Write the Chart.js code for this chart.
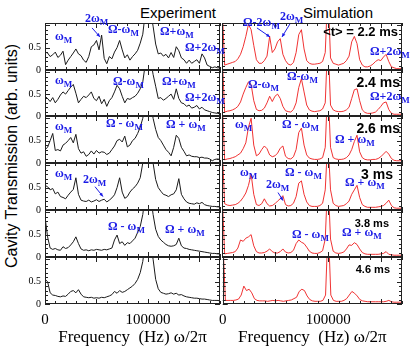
<!DOCTYPE html>
<html>
<head>
<meta charset="utf-8">
<script src="https://cdn.jsdelivr.net/npm/chart.js@4.4.0/dist/chart.umd.min.js"></script>
<style>
  html, body { margin: 0; padding: 0; background: #fff; }
  #fig { position: relative; width: 416px; height: 350px; overflow: hidden; font-family: "Liberation Sans", Arial, sans-serif; }
  #fig canvas { position: absolute; }
  .head { position: absolute; top: 4px; width: 120px; text-align: center; font-size: 15px; line-height: 18px; color: #000; }
  .ytitle { position: absolute; left: -138px; top: 146px; width: 300px; height: 20px; line-height: 20px;
            text-align: center; font-size: 16px; color: #000; transform: rotate(-90deg); white-space: nowrap; }
  .note { position: absolute; color: #1a1ae6; font: bold 12px "Liberation Serif", serif; line-height: 12px; white-space: nowrap; }
  .note sub { font-size: 9px; line-height: 0; vertical-align: -3px; }
  .tlab { position: absolute; font-weight: bold; color: #000; white-space: nowrap; line-height: 1; }
</style>
</head>
<body>
<div id="fig">
  <div class="head" style="left:118px">Experiment</div>
  <div class="head" style="left:278px">Simulation</div>
  <div class="ytitle">Cavity Transmission (arb. units)</div>
</div>
<script>
// frequency grid (Hz), shared by every trace
const FREQ = [
  0, 2500, 5000, 7500, 10000, 12500, 15000, 17500, 20000, 22500,
  25000, 27500, 30000, 32500, 35000, 37500, 40000, 42500, 45000, 47500,
  50000, 52500, 55000, 57500, 60000, 62500, 65000, 67500, 70000, 72500,
  75000, 77500, 80000, 82500, 85000, 87500, 90000, 92500, 95000, 97500,
  100000, 102500, 105000, 107500, 110000, 112500, 115000, 117500, 120000, 122500,
  125000, 127500, 130000, 132500, 135000, 137500, 140000, 142500, 145000, 147500,
  150000, 152500, 155000, 157500, 160000, 162500, 165000, 167500, 170000,
];
const X_TICKS = [0, 100000];
const Y_TICKS = [0, 0.5];
const TIMES = ['<t> = 2.2 ms', '2.4 ms', '2.6 ms', '3 ms', '3.8 ms', '4.6 ms'];

// ── Experiment (black) ──
const EXP_22 = [0.40,0.38,0.30,0.34,0.40,0.28,0.33,0.42,0.12,0.22, 0.30,0.38,0.47,0.36,0.32,0.22,0.17,0.30,0.52,0.56,
  0.66,0.45,0.78,0.26,0.14,0.30,0.25,0.40,0.50,0.66, 0.45,0.27,0.34,0.22,0.30,0.36,0.44,0.60,0.80,1.30,
  1.60,1.30,0.98,0.58,0.36,0.38,0.31,0.35,0.27,0.39, 0.28,0.52,0.43,0.27,0.23,0.15,0.22,0.15,0.19,0.23,
  0.15,0.36,0.27,0.11,0.08,0.05,0.07,0.05,0.05];
const EXP_24 = [0.45,0.40,0.33,0.42,0.30,0.38,0.48,0.55,0.50,0.58, 0.66,0.72,0.52,0.30,0.38,0.45,0.42,0.48,0.55,0.40,
  0.35,0.45,0.28,0.38,0.22,0.35,0.42,0.55,0.70,0.62, 0.45,0.30,0.40,0.38,0.42,0.45,0.52,0.62,0.78,1.20,
  1.60,1.30,0.95,0.68,0.40,0.42,0.36,0.40,0.45,0.50, 0.38,0.62,0.40,0.30,0.28,0.22,0.25,0.18,0.20,0.24,
  0.16,0.20,0.14,0.12,0.10,0.08,0.07,0.06,0.05];
const EXP_26 = [0.30,0.35,0.50,0.66,0.28,0.30,0.27,0.40,0.44,0.50, 0.57,0.45,0.64,0.32,0.22,0.25,0.15,0.19,0.27,0.20,
  0.28,0.22,0.25,0.24,0.19,0.22,0.30,0.38,0.50,0.53, 0.47,0.60,0.36,0.40,0.50,0.55,0.66,0.80,1.00,1.30,
  1.60,1.40,1.00,0.75,0.57,0.50,0.40,0.30,0.24,0.16, 0.35,0.62,0.55,0.35,0.26,0.16,0.18,0.15,0.14,0.14,
  0.12,0.13,0.11,0.11,0.09,0.05,0.08,0.09,0.08];
const EXP_30 = [0.55,0.52,0.45,0.48,0.36,0.40,0.30,0.28,0.25,0.33, 0.40,0.46,0.72,0.35,0.22,0.20,0.19,0.22,0.18,0.20,
  0.23,0.19,0.22,0.24,0.18,0.22,0.27,0.34,0.50,0.72, 0.40,0.26,0.30,0.40,0.47,0.52,0.60,0.72,1.05,1.50,
  1.70,1.50,1.05,0.68,0.50,0.42,0.35,0.33,0.30,0.34, 0.36,0.45,0.70,0.35,0.25,0.18,0.15,0.14,0.13,0.16,
  0.14,0.17,0.12,0.10,0.09,0.08,0.08,0.07,0.07];
const EXP_38 = [0.90,0.45,0.20,0.17,0.19,0.16,0.15,0.23,0.19,0.21, 0.27,0.34,0.45,0.30,0.18,0.15,0.16,0.14,0.16,0.15,
  0.17,0.16,0.15,0.17,0.16,0.18,0.20,0.38,0.49,0.30, 0.34,0.26,0.32,0.30,0.36,0.42,0.55,0.68,0.95,1.40,
  1.70,1.40,0.95,0.62,0.46,0.38,0.33,0.28,0.25,0.24, 0.25,0.28,0.42,0.25,0.20,0.19,0.17,0.16,0.15,0.14,
  0.13,0.12,0.11,0.10,0.09,0.08,0.08,0.07,0.07];
const EXP_46 = [0.55,0.50,0.25,0.20,0.19,0.17,0.16,0.18,0.17,0.22, 0.28,0.30,0.25,0.32,0.22,0.16,0.15,0.14,0.15,0.13,
  0.14,0.13,0.15,0.14,0.16,0.18,0.21,0.28,0.24,0.30, 0.26,0.28,0.32,0.36,0.40,0.46,0.55,0.70,0.95,1.40,
  1.80,1.40,1.00,0.55,0.34,0.26,0.24,0.22,0.23,0.25, 0.22,0.24,0.20,0.21,0.18,0.16,0.15,0.14,0.13,0.13,
  0.12,0.11,0.11,0.10,0.09,0.08,0.08,0.08,0.07];

// ── Simulation (red) ──
const SIM_22 = [1.50,0.11,0.13,0.15,0.17,0.19,0.25,0.35,0.52,0.75, 1.02,0.90,0.55,0.23,0.15,0.15,0.21,0.31,0.75,0.39,
  0.47,0.63,0.70,0.35,0.21,0.13,0.11,0.17,0.39,0.79, 0.90,0.47,0.21,0.15,0.13,0.13,0.14,0.15,0.19,0.39,
  1.80,0.27,0.15,0.13,0.11,0.13,0.15,0.21,0.31,0.63, 0.75,0.59,0.23,0.11,0.07,0.07,0.09,0.13,0.19,0.23,
  0.21,0.29,0.35,0.19,0.07,0.05,0.03,0.03,0.03];
const SIM_24 = [1.50,0.09,0.11,0.12,0.14,0.17,0.22,0.32,0.50,0.65, 0.78,0.72,0.35,0.15,0.12,0.13,0.18,0.30,0.45,0.33,
  0.45,0.50,0.40,0.22,0.12,0.10,0.09,0.15,0.30,0.65, 0.85,0.55,0.25,0.14,0.11,0.10,0.11,0.12,0.16,0.30,
  1.80,0.25,0.14,0.11,0.10,0.10,0.11,0.14,0.20,0.40, 0.60,0.62,0.35,0.14,0.08,0.06,0.06,0.07,0.09,0.15,
  0.22,0.30,0.32,0.15,0.06,0.04,0.04,0.04,0.04];
const SIM_26 = [1.50,0.07,0.09,0.10,0.12,0.14,0.18,0.22,0.32,0.45, 0.80,1.00,0.40,0.16,0.20,0.30,0.38,0.32,0.18,0.14,
  0.16,0.22,0.33,0.38,0.15,0.10,0.09,0.14,0.30,0.68, 0.78,0.40,0.18,0.11,0.09,0.08,0.08,0.09,0.12,0.35,
  1.80,0.35,0.12,0.09,0.08,0.08,0.09,0.12,0.18,0.30, 0.48,0.62,0.25,0.12,0.08,0.07,0.07,0.08,0.08,0.10,
  0.14,0.20,0.26,0.20,0.10,0.06,0.05,0.05,0.05];
const SIM_30 = [1.50,0.14,0.11,0.10,0.11,0.12,0.15,0.20,0.28,0.38, 0.55,0.80,0.35,0.12,0.10,0.14,0.25,0.14,0.09,0.10,
  0.14,0.20,0.25,0.32,0.12,0.09,0.10,0.15,0.30,0.60, 0.65,0.35,0.18,0.10,0.08,0.08,0.08,0.10,0.15,0.45,
  1.60,0.45,0.15,0.10,0.08,0.09,0.10,0.14,0.20,0.35, 0.45,0.55,0.28,0.12,0.08,0.06,0.06,0.06,0.06,0.07,
  0.08,0.10,0.15,0.22,0.10,0.05,0.04,0.04,0.04];
const SIM_38 = [1.50,0.07,0.08,0.09,0.10,0.12,0.20,0.38,0.35,0.42, 0.45,0.50,0.25,0.12,0.09,0.09,0.10,0.13,0.18,0.12,
  0.09,0.09,0.12,0.18,0.11,0.09,0.10,0.15,0.30,0.38, 0.33,0.30,0.22,0.13,0.09,0.08,0.08,0.10,0.14,0.40,
  1.80,0.40,0.13,0.09,0.08,0.09,0.11,0.18,0.27,0.26, 0.32,0.28,0.18,0.10,0.07,0.06,0.06,0.06,0.06,0.06,
  0.07,0.08,0.12,0.06,0.05,0.04,0.04,0.04,0.04];
const SIM_46 = [1.50,0.08,0.08,0.08,0.08,0.09,0.11,0.20,0.40,0.30, 0.33,0.25,0.12,0.08,0.07,0.07,0.07,0.06,0.07,0.08,
  0.07,0.08,0.07,0.06,0.07,0.08,0.09,0.12,0.15,0.28, 0.33,0.30,0.18,0.10,0.07,0.06,0.06,0.06,0.08,0.20,
  1.80,0.20,0.08,0.06,0.06,0.06,0.08,0.12,0.20,0.28, 0.24,0.18,0.10,0.07,0.06,0.05,0.05,0.05,0.05,0.05,
  0.05,0.05,0.06,0.08,0.05,0.04,0.04,0.04,0.04];

const EXP = [EXP_22, EXP_24, EXP_26, EXP_30, EXP_38, EXP_46];
const SIM = [SIM_22, SIM_24, SIM_26, SIM_30, SIM_38, SIM_46];

// arrows, in data units of their panel: [col, row, fromF, fromV, toF, toV]
const ARROWS = [
  [0, 0, 45700, 0.94, 53400, 0.74],
  [0, 3, 48600, 0.52, 56300, 0.30],
  [1, 0, 33000, 0.94, 45300, 0.74],
  [1, 0, 64200, 1.03, 56700, 0.74],
  [1, 3, 52900, 0.39, 57600, 0.21],
];

// blue labels: [html, left, top]
const NOTES = [
  ['ω<sub>M</sub>', 55, 30], ['2ω<sub>M</sub>', 85, 12], ['Ω-ω<sub>M</sub>', 108, 23],
  ['Ω+ω<sub>M</sub>', 160, 25], ['Ω+2ω<sub>M</sub>', 185, 41],
  ['ω<sub>M</sub>', 55, 74], ['Ω-ω<sub>M</sub>', 113, 75], ['Ω+ω<sub>M</sub>', 162, 75], ['Ω+2ω<sub>M</sub>', 185, 91],
  ['ω<sub>M</sub>', 55, 120], ['Ω - ω<sub>M</sub>', 106, 117], ['Ω + ω<sub>M</sub>', 166, 118],
  ['ω<sub>M</sub>', 55, 167], ['2ω<sub>M</sub>', 83, 173],
  ['Ω - ω<sub>M</sub>', 108, 220], ['Ω + ω<sub>M</sub>', 165, 223],
  ['Ω-2ω<sub>M</sub>', 243, 16], ['2ω<sub>M</sub>', 280, 10], ['Ω+2ω<sub>M</sub>', 370, 45],
  ['Ω-ω<sub>M</sub>', 248, 78], ['Ω-ω<sub>M</sub>', 287, 70], ['Ω+2ω<sub>M</sub>', 370, 90],
  ['ω<sub>M</sub>', 235, 118], ['Ω - ω<sub>M</sub>', 282, 118], ['Ω + ω<sub>M</sub>', 335, 133],
  ['ω<sub>M</sub>', 240, 166], ['2ω<sub>M</sub>', 266, 178], ['Ω - ω<sub>M</sub>', 285, 166], ['Ω + ω<sub>M</sub>', 345, 176],
  ['Ω - ω<sub>M</sub>', 292, 228], ['Ω + ω<sub>M</sub>', 342, 226],
];
// time labels: right edge, top, font size
const TIME_POS = [[398, 25, 13], [400, 75, 14], [400, 121, 14], [393, 167, 14], [389, 218, 11], [390, 264, 11]];

const PAD = 10, AXIS_H = 46;
const ROW_Y = [23, 70, 116, 163, 210, 257, 304];
const fig = document.getElementById('fig');

Chart.defaults.color = '#000';
Chart.defaults.font.family = '"Liberation Serif", serif';

function boxPlugin(arrows) {
  return {
    id: 'box',
    afterDatasetsDraw(chart) {
      const { ctx, chartArea: a, scales: { x, y } } = chart;
      ctx.save();
      ctx.strokeStyle = '#222';
      ctx.lineWidth = 1;
      ctx.strokeRect(Math.round(a.left) + 0.5, Math.round(a.top) + 0.5, Math.round(a.width) - 1, Math.round(a.height) - 1);
      ctx.beginPath();
      for (let k = 0; k <= 17; k++) {
        const px = Math.round(x.getPixelForValue(k * 10000)) + 0.5;
        const len = k % 5 === 0 ? 5 : 3;
        ctx.moveTo(px, a.bottom); ctx.lineTo(px, a.bottom - len);
        ctx.moveTo(px, a.top); ctx.lineTo(px, a.top + len);
      }
      for (let k = 0; k <= 10; k++) {
        const py = Math.round(y.getPixelForValue(k / 10)) + 0.5;
        const len = k % 5 === 0 ? 5 : 3;
        ctx.moveTo(a.left, py); ctx.lineTo(a.left + len, py);
        ctx.moveTo(a.right, py); ctx.lineTo(a.right - len, py);
      }
      ctx.stroke();

      // arrows pointing at the labelled peaks
      ctx.strokeStyle = ctx.fillStyle = '#1a1ae6';
      arrows.forEach(([, , f1, v1, f2, v2]) => {
        const x1 = x.getPixelForValue(f1), y1 = y.getPixelForValue(v1);
        const x2 = x.getPixelForValue(f2), y2 = y.getPixelForValue(v2);
        const ang = Math.atan2(y2 - y1, x2 - x1);
        ctx.beginPath(); ctx.moveTo(x1, y1); ctx.lineTo(x2, y2); ctx.stroke();
        ctx.beginPath();
        ctx.moveTo(x2, y2);
        ctx.lineTo(x2 - 4 * Math.cos(ang - 0.45), y2 - 4 * Math.sin(ang - 0.45));
        ctx.lineTo(x2 - 4 * Math.cos(ang + 0.45), y2 - 4 * Math.sin(ang + 0.45));
        ctx.closePath(); ctx.fill();
      });
      ctx.restore();
    },
  };
}

function makePanel(col, row) {
  const left = col === 0, bottom = row === 5;
  const h = ROW_Y[row + 1] - ROW_Y[row];
  const canvas = document.createElement('canvas');
  canvas.width = left ? 220 + PAD : 180 + 2 * PAD;
  canvas.height = h + PAD + (bottom ? AXIS_H : PAD);
  canvas.style.left = (left ? 0 : 222 - PAD) + 'px';
  canvas.style.top = (ROW_Y[row] - PAD) + 'px';
  fig.appendChild(canvas);

  const vals = left ? EXP[row] : SIM[row];
  new Chart(canvas, {
    type: 'line',
    data: {
      datasets: [{
        data: FREQ.map((f, i) => ({ x: f, y: vals[i] })),
        borderColor: left ? '#1a1a1a' : '#ee1c1c',
        borderWidth: left ? 1 : 0.9,
        pointRadius: 0, tension: 0, fill: false,
      }],
    },
    options: {
      responsive: false, animation: false, events: [],
      layout: { padding: { left: left ? 0 : PAD, right: PAD, top: PAD, bottom: bottom ? 0 : PAD } },
      plugins: { legend: { display: false }, tooltip: { enabled: false } },
      scales: {
        x: {
          type: 'linear', min: 0, max: 170000, display: bottom,
          afterBuildTicks: s => { s.ticks = X_TICKS.map(v => ({ value: v })); },
          afterFit: s => { if (bottom) s.height = AXIS_H; },
          grid: { display: false, drawTicks: false }, border: { display: false },
          ticks: { padding: 7, autoSkip: false, maxRotation: 0, font: { size: 15 }, callback: v => String(v) },
          title: { display: true, text: 'Frequency  (Hz) ω/2π', font: { size: 17 }, padding: { top: 0, bottom: 2 } },
        },
        y: {
          min: 0, max: 1.05, display: left,
          afterBuildTicks: s => { s.ticks = Y_TICKS.map(v => ({ value: v })); },
          afterFit: s => { if (left) s.width = 45; },
          grid: { display: false, drawTicks: false }, border: { display: false },
          ticks: { padding: 4, font: { size: 10 }, callback: v => String(v) },
        },
      },
    },
    plugins: [boxPlugin(ARROWS.filter(a => a[0] === col && a[1] === row))],
  });
}

for (let r = 0; r < 6; r++) { makePanel(0, r); makePanel(1, r); }

NOTES.forEach(([html, x, y]) => {
  const d = document.createElement('div');
  d.className = 'note';
  d.innerHTML = html;
  d.style.left = x + 'px';
  d.style.top = y + 'px';
  fig.appendChild(d);
});

TIMES.forEach((t, i) => {
  const [xr, y, size] = TIME_POS[i];
  const d = document.createElement('div');
  d.className = 'tlab';
  d.textContent = t;
  d.style.right = (416 - xr) + 'px';
  d.style.top = y + 'px';
  d.style.fontSize = size + 'px';
  fig.appendChild(d);
});
</script>
</body>
</html>
